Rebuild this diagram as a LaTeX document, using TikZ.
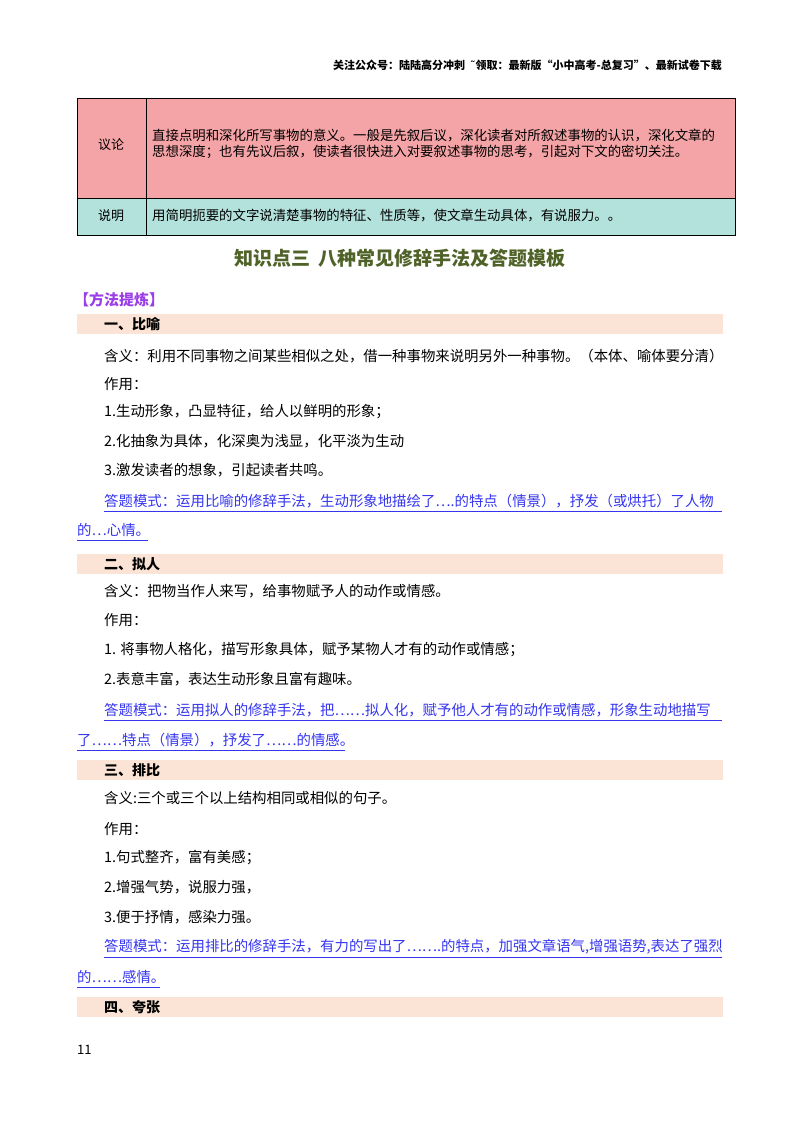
\documentclass[tikz,border=0pt]{standalone}
\usepackage{fontspec}
\setmainfont{Noto Sans CJK SC}
\newfontfamily\djv{DejaVu Sans}
\definecolor{pinkf}{HTML}{F4A3A6}
\definecolor{tealf}{HTML}{B3E1DB}
\definecolor{peach}{HTML}{FBE4D5}
\definecolor{titleg}{HTML}{4F6228}
\definecolor{purp}{HTML}{9B3DE8}
\definecolor{linkb}{HTML}{3535F0}
\begin{document}
\begin{tikzpicture}[x=1pt,y=-1pt,
  body/.style={anchor=west,inner sep=0pt,font=\fontsize{14.4}{16}\selectfont},
  link/.style={body,text=linkb},
  bar/.style={fill=peach,draw=none},
  head/.style={anchor=west,inner sep=0pt,font=\fontsize{14}{16}\selectfont\bfseries}]
\useasboundingbox (0,0) rectangle (800,1132);
\fill[white] (0,0) rectangle (800,1132);
\node[anchor=east,inner sep=0pt,font=\fontsize{11}{13}\selectfont\bfseries] (hdr) at (722,65) {关注公众号：陆陆高分冲刺\ \ {\djv ˜}领取：最新版“小中高考-总复习”、最新试卷下载};
% table
\fill[pinkf] (77,98) rectangle (735,198);
\fill[tealf] (77,198) rectangle (735,235);
\draw[line width=1pt] (77,98) rectangle (735,235);
\draw[line width=1pt] (77,198) -- (735,198);
\draw[line width=1pt] (146,98) -- (146,235);
\node[body,anchor=center,font=\fontsize{13}{16}\selectfont] (c1) at (111,145) {议论};
\node[body,anchor=center,font=\fontsize{13}{16}\selectfont] (c2) at (111,216) {说明};
\node[body,anchor=north west,align=left,font=\fontsize{13.4}{15.5}\selectfont] (d1) at (152,129) {直接点明和深化所写事物的意义。一般是先叙后议，深化读者对所叙述事物的认识，深化文章的\\思想深度；也有先议后叙，使读者很快进入对要叙述事物的思考，引起对下文的密切关注。};
\node[body,font=\fontsize{13.4}{16}\selectfont] (d2) at (152,215) {用简明扼要的文字说清楚事物的特征、性质等，使文章生动具体，有说服力。。};
% title
\node[inner sep=0pt,text=titleg,font=\fontsize{19}{22}\selectfont\bfseries] (title) at (400,258) {知识点三\ \ 八种常见修辞手法及答题模板};
\node[anchor=west,inner sep=0pt,text=purp,font=\fontsize{15}{18}\selectfont\bfseries] (ff) at (74,300) {【方法提炼】};
% section 1
\fill[bar] (77,314) rectangle (723,334);
\node[head] (s1) at (104,324) {一、比喻};
\node[body] (a1) at (104,356) {含义：利用不同事物之间某些相似之处，借一种事物来说明另外一种事物。（本体、喻体要分清）};
\node[body] (a2) at (104,384) {作用：};
\node[body] (a3) at (104,412) {1.生动形象，凸显特征，给人以鲜明的形象；};
\node[body] (a4) at (104,441) {2.化抽象为具体，化深奥为浅显，化平淡为生动};
\node[body] (a5) at (104,470) {3.激发读者的想象，引起读者共鸣。};
\node[link] (a6) at (104,501) {答题模式：运用比喻的修辞手法，生动形象地描绘了….的特点（情景），抒发（或烘托）了人物};
\node[link] (a7) at (77,530) {的…心情。};
\draw[linkb,line width=0.6pt] (104,511) -- (722,511);
\draw[linkb,line width=0.6pt] (77,540) -- (148,540);
% section 2
\fill[bar] (77,554) rectangle (723,574);
\node[head] (s2) at (104,564) {二、拟人};
\node[body] (b1) at (104,591) {含义：把物当作人来写，给事物赋予人的动作或情感。};
\node[body] (b2) at (104,620) {作用：};
\node[body] (b3) at (104,650) {1. 将事物人格化，描写形象具体，赋予某物人才有的动作或情感；};
\node[body] (b4) at (104,679) {2.表意丰富，表达生动形象且富有趣味。};
\node[link] (b5) at (104,710) {答题模式：运用拟人的修辞手法，把……拟人化，赋予他人才有的动作或情感，形象生动地描写};
\node[link] (b6) at (77,740) {了……特点（情景），抒发了……的情感。};
\draw[linkb,line width=0.6pt] (104,720) -- (722,720);
\draw[linkb,line width=0.6pt] (77,750) -- (345,750);
% section 3
\fill[bar] (77,760) rectangle (723,780);
\node[head] (s3) at (104,770) {三、排比};
\node[body] (e1) at (104,798) {含义:三个或三个以上结构相同或相似的句子。};
\node[body] (e2) at (104,829) {作用：};
\node[body] (e3) at (104,858) {1.句式整齐，富有美感；};
\node[body] (e4) at (104,887) {2.增强气势，说服力强，};
\node[body] (e5) at (104,917) {3.便于抒情，感染力强。};
\node[link] (e6) at (104,947) {答题模式：运用排比的修辞手法，有力的写出了…….的特点，加强文章语气,增强语势,表达了强烈};
\node[link] (e7) at (77,977) {的……感情。};
\draw[linkb,line width=0.6pt] (104,957) -- (722,957);
\draw[linkb,line width=0.6pt] (77,987) -- (160,987);
% section 4
\fill[bar] (77,997) rectangle (723,1017);
\node[head] (s4) at (104,1007) {四、夸张};
\node[anchor=west,inner sep=0pt,font=\fontsize{13}{15}\selectfont] (pg) at (77,1050) {11};
\end{tikzpicture}
\end{document}
